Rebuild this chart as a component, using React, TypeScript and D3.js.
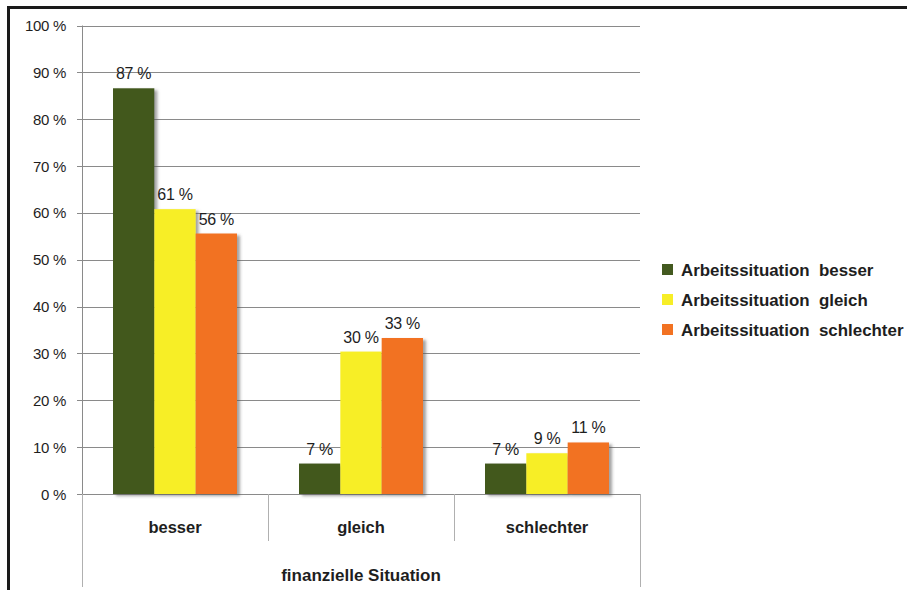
import React from "react";
import * as d3 from "d3";

const categories = ["besser", "gleich", "schlechter"];
const series = ["Arbeitssituation  besser", "Arbeitssituation  gleich", "Arbeitssituation  schlechter"];
const colors = ["#43591f", "#f7ee27", "#f27222"];
// values[categoryIndex][seriesIndex], in percent
const valuesBesser = [86.6, 60.8, 55.6];
const valuesGleich = [6.5, 30.4, 33.3];
const valuesSchlechter = [6.5, 8.7, 11.0];
const values = [valuesBesser, valuesGleich, valuesSchlechter];
const yTicks = [0, 10, 20, 30, 40, 50, 60, 70, 80, 90, 100];
const axisTitle = "finanzielle Situation";

const W = 907;
const H = 590;
const plotLeft = 82;
const plotRight = 640;
const plotTop = 25.5;
const plotBottom = 494;
const font = "'Liberation Sans', Arial, sans-serif";
const textColor = "#1e1e1e";

export default function App() {
  const y = d3.scaleLinear().domain([0, 100]).range([plotBottom, plotTop]);
  const x0 = d3.scaleBand<string>().domain(categories).range([plotLeft, plotRight]).padding(0);
  const x1 = d3
    .scaleBand<string>()
    .domain(series)
    .range([0, x0.bandwidth()])
    .paddingInner(0)
    .paddingOuter(0.75);

  return (
    <svg
      width={W}
      height={H}
      style={{ position: "absolute", left: 0, top: 0, background: "#fff" }}
      fontFamily={font}
    >
      <defs>
        <filter id="shadow" x="-20%" y="-20%" width="160%" height="140%">
          <feDropShadow dx="3" dy="2" stdDeviation="1.8" floodColor="#555" floodOpacity="0.55" />
        </filter>
      </defs>
      <rect x={0} y={0} width={W} height={H} fill="#fff" />

      {/* gridlines and y tick labels */}
      {yTicks.map((t) => (
        <g key={t}>
          <line
            x1={plotLeft - 5}
            x2={plotRight}
            y1={Math.round(y(t)) + 0.5}
            y2={Math.round(y(t)) + 0.5}
            stroke="#8a8a8a"
            strokeWidth={1}
          />
          <text
            x={66}
            y={y(t) + 5.5}
            textAnchor="end"
            fontSize={15}
            letterSpacing={-0.3}
            fill={textColor}
          >
            {`${t} %`}
          </text>
        </g>
      ))}

      {/* left axis line */}
      <line x1={plotLeft + 0.5} x2={plotLeft + 0.5} y1={plotTop} y2={plotBottom} stroke="#8a8a8a" />

      {/* category axis lines below */}
      <line x1={plotLeft + 0.5} x2={plotLeft + 0.5} y1={plotBottom} y2={587} stroke="#b0b0b0" />
      <line x1={plotRight + 0.5} x2={plotRight + 0.5} y1={plotBottom} y2={587} stroke="#b0b0b0" />
      {categories.slice(1).map((c) => (
        <line
          key={c}
          x1={(x0(c) as number) + 0.5}
          x2={(x0(c) as number) + 0.5}
          y1={plotBottom}
          y2={541}
          stroke="#b0b0b0"
        />
      ))}

      {/* bars */}
      {categories.map((c, ci) => (
        <g key={c} transform={`translate(${x0(c)},0)`}>
          {series.map((s, si) => {
            const v = values[ci][si];
            const bx = x1(s) as number;
            return (
              <rect
                key={s}
                x={bx}
                y={y(v)}
                width={x1.bandwidth()}
                height={plotBottom - y(v)}
                fill={colors[si]}
                filter="url(#shadow)"
              />
            );
          })}
          {series.map((s, si) => {
            const v = values[ci][si];
            const bx = x1(s) as number;
            return (
              <text
                key={s + "-l"}
                x={bx + x1.bandwidth() / 2}
                y={y(v) - 9}
                textAnchor="middle"
                fontSize={16}
                letterSpacing={-0.3}
                fill={textColor}
              >
                {`${Math.round(v)} %`}
              </text>
            );
          })}
        </g>
      ))}

      {/* category labels */}
      {categories.map((c) => (
        <text
          key={c}
          x={(x0(c) as number) + x0.bandwidth() / 2}
          y={533}
          textAnchor="middle"
          fontSize={16.5}
          fontWeight="bold"
          fill={textColor}
        >
          {c}
        </text>
      ))}
      <text
        x={(plotLeft + plotRight) / 2}
        y={581}
        textAnchor="middle"
        fontSize={17}
        fontWeight="bold"
        fill={textColor}
      >
        {axisTitle}
      </text>

      {/* legend */}
      {series.map((s, i) => (
        <g key={s} transform={`translate(662,${264 + i * 30})`}>
          <rect x={0} y={0} width={11} height={11} fill={colors[i]} />
          <text x={19} y={12} fontSize={16.9} fontWeight="bold" fill={textColor} style={{ whiteSpace: "pre" }}>
            {s}
          </text>
        </g>
      ))}

      {/* outer frame (top and left) */}
      <rect x={7} y={6} width={W - 7} height={3} fill="#1a1a1a" />
      <rect x={7} y={6} width={3} height={H - 6} fill="#1a1a1a" />
    </svg>
  );
}
